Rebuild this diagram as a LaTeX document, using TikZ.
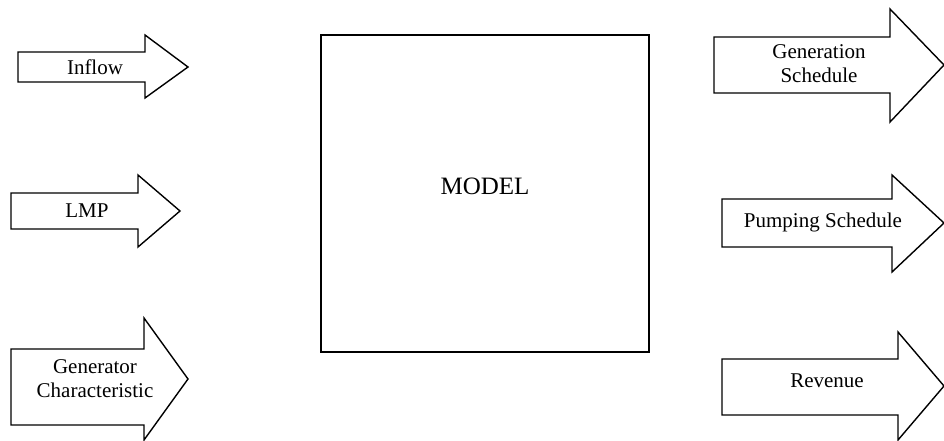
\documentclass[tikz,border=0pt]{standalone}
\usepackage{fontspec}
\setmainfont{Liberation Serif}
\tikzset{
  flowarrow/.style={draw,line width=1.4pt,line join=miter},
  arrowtext/.style={inner sep=0pt,align=center,font=\fontsize{21}{24}\selectfont},
  modelbox/.style={draw,line width=1.8pt,inner sep=0pt},
  modeltext/.style={inner sep=0pt,font=\fontsize{25}{30}\selectfont},
}
\begin{document}
\begin{tikzpicture}[x=1pt,y=-1pt]
\useasboundingbox (0,0) rectangle (944,441);
% inputs
\draw[flowarrow] (18,52)--(145,52)--(145,35)--(188,67)--(145,98)--(145,82)--(18,82)--cycle;
\node[arrowtext] (inflow) at (95,67) {Inflow};
\draw[flowarrow] (11,193)--(138,193)--(138,175)--(180,211)--(138,247)--(138,229)--(11,229)--cycle;
\node[arrowtext] (lmp) at (87,211) {LMP};
\draw[flowarrow] (11,349)--(144,349)--(144,318)--(188,379)--(144,440)--(144,425)--(11,425)--cycle;
\node[arrowtext] (genchar) at (95,379) {Generator\\Characteristic};
% model
\node[modelbox,minimum width=328pt,minimum height=317pt] (model) at (485,193.5) {};
\node[modeltext] (modellbl) at ([yshift=7pt]model.center) {MODEL};
% outputs
\draw[flowarrow] (714,37)--(890,37)--(890,9)--(944,65)--(890,122)--(890,93)--(714,93)--cycle;
\node[arrowtext] (gensched) at (819,64) {Generation\\Schedule};
\draw[flowarrow] (722,199)--(892,199)--(892,175)--(944,223)--(892,272)--(892,247)--(722,247)--cycle;
\node[arrowtext] (pumpsched) at (823,222) {Pumping Schedule};
\draw[flowarrow] (722,359)--(898,359)--(898,332)--(944,386)--(898,440)--(898,415)--(722,415)--cycle;
\node[arrowtext] (revenue) at (827,381) {Revenue};
\end{tikzpicture}
\end{document}
